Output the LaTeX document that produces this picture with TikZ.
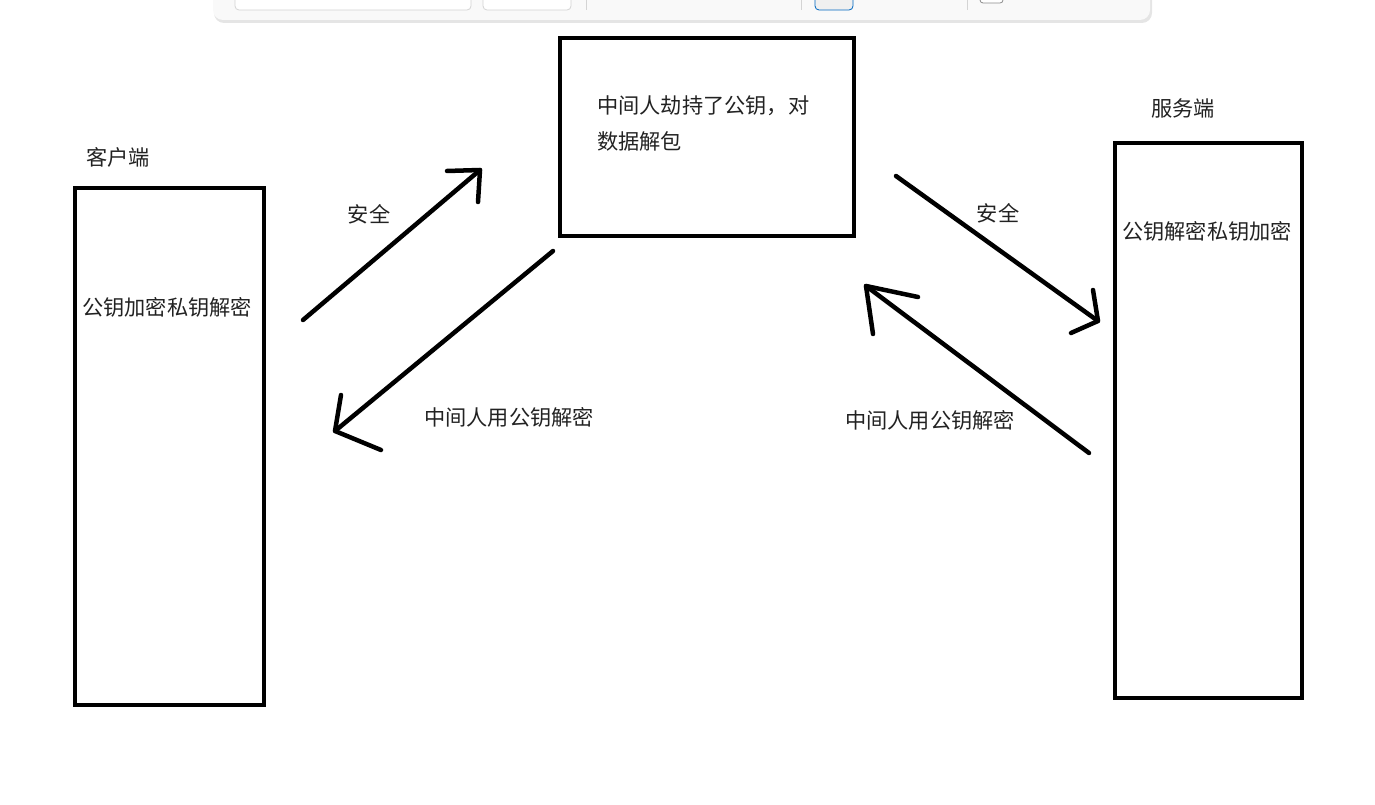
\documentclass[tikz,border=0pt]{standalone}
\usepackage{fontspec}
\newfontfamily\cjk{Noto Sans CJK SC}
\usetikzlibrary{shadows}
\definecolor{txt}{HTML}{222222}
\definecolor{tbfill}{HTML}{F9F9F9}
\definecolor{tbline}{HTML}{D4D4D4}
\definecolor{winblue}{HTML}{0067C0}
\begin{document}
\begin{tikzpicture}[x=1pt,y=-1pt,
  box/.style={draw=black,line width=4.5pt},
  lbl/.style={font=\cjk\fontsize{21.2}{26}\selectfont,text=txt,inner sep=0pt},
  stroke/.style={line width=4.5pt,line cap=round,line join=round},
  tbbox/.style={draw=tbline,fill=white,rounded corners=4pt,line width=0.8pt}]
\useasboundingbox (0,0) rectangle (1375,805);
% partial toolbar at the top
\fill[black!10,rounded corners=10pt] (214,-20) rectangle (1152,23);
\fill[tbfill,rounded corners=10pt] (213,-20) rectangle (1150,20);
\draw[tbbox] (235,-10) rectangle (471,10);
\draw[tbbox] (483,-10) rectangle (571,10);
\draw[tbline,line width=0.6pt] (586,-5) -- (586,10);
\draw[tbline,line width=0.6pt] (801,-5) -- (801,10);
\draw[tbline,line width=0.6pt] (967,-5) -- (967,10);
\draw[draw=winblue,fill=black!6,rounded corners=4pt,line width=0.8pt] (815,-10) rectangle (853,10);
\draw[draw=black!45,fill=white,rounded corners=3pt,line width=0.8pt] (980,-10) rectangle (1003,3);
% boxes
\node[box,minimum width=189pt,minimum height=517pt,inner sep=0pt] (client) at (169.5,446.5) {};
\node[box,minimum width=294pt,minimum height=198pt,inner sep=0pt] (mitm) at (707,137) {};
\node[box,minimum width=187pt,minimum height=555pt,inner sep=0pt] (server) at (1208.5,420.5) {};
% texts
\node[lbl] (clientname) at (118,157) {客户端};
\node[lbl] (clienttext) at (167,307) {公钥加密私钥解密};
\node[lbl] (servername) at (1183,108) {服务端};
\node[lbl] (servertext) at (1207,231) {公钥解密私钥加密};
\node[lbl,anchor=west] (mitm1) at (597,106) {中间人劫持了公钥，对};
\node[lbl,anchor=west] (mitm2) at (597,141) {数据解包};
\node[lbl] (safe1) at (369,214) {安全};
\node[lbl] (safe2) at (998,213) {安全};
\node[lbl] (dec1) at (509,417) {中间人用公钥解密};
\node[lbl] (dec2) at (930,420) {中间人用公钥解密};
% arrow points
\coordinate (a1s) at (303,320); \coordinate (a1t) at (480,170);
\coordinate (a1b) at (447,171); \coordinate (a1c) at (478,202);
\coordinate (a2s) at (553,251); \coordinate (a2t) at (335,431);
\coordinate (a2b) at (341,395); \coordinate (a2c) at (381,450);
\coordinate (a3s) at (896,176); \coordinate (a3t) at (1098,321);
\coordinate (a3b) at (1093,290); \coordinate (a3c) at (1071,333);
\coordinate (a4s) at (1089,453); \coordinate (a4t) at (866,286);
\coordinate (a4b) at (918,297); \coordinate (a4c) at (873,334);
% arrows
\draw[stroke] (a1s) -- (a1t);
\draw[stroke] (a1b) -- (a1t) -- (a1c);
\draw[stroke] (a2s) -- (a2t);
\draw[stroke] (a2b) -- (a2t) -- (a2c);
\draw[stroke] (a3s) -- (a3t);
\draw[stroke] (a3b) -- (a3t) -- (a3c);
\draw[stroke] (a4s) -- (a4t);
\draw[stroke] (a4b) -- (a4t) -- (a4c);
\end{tikzpicture}
\end{document}
